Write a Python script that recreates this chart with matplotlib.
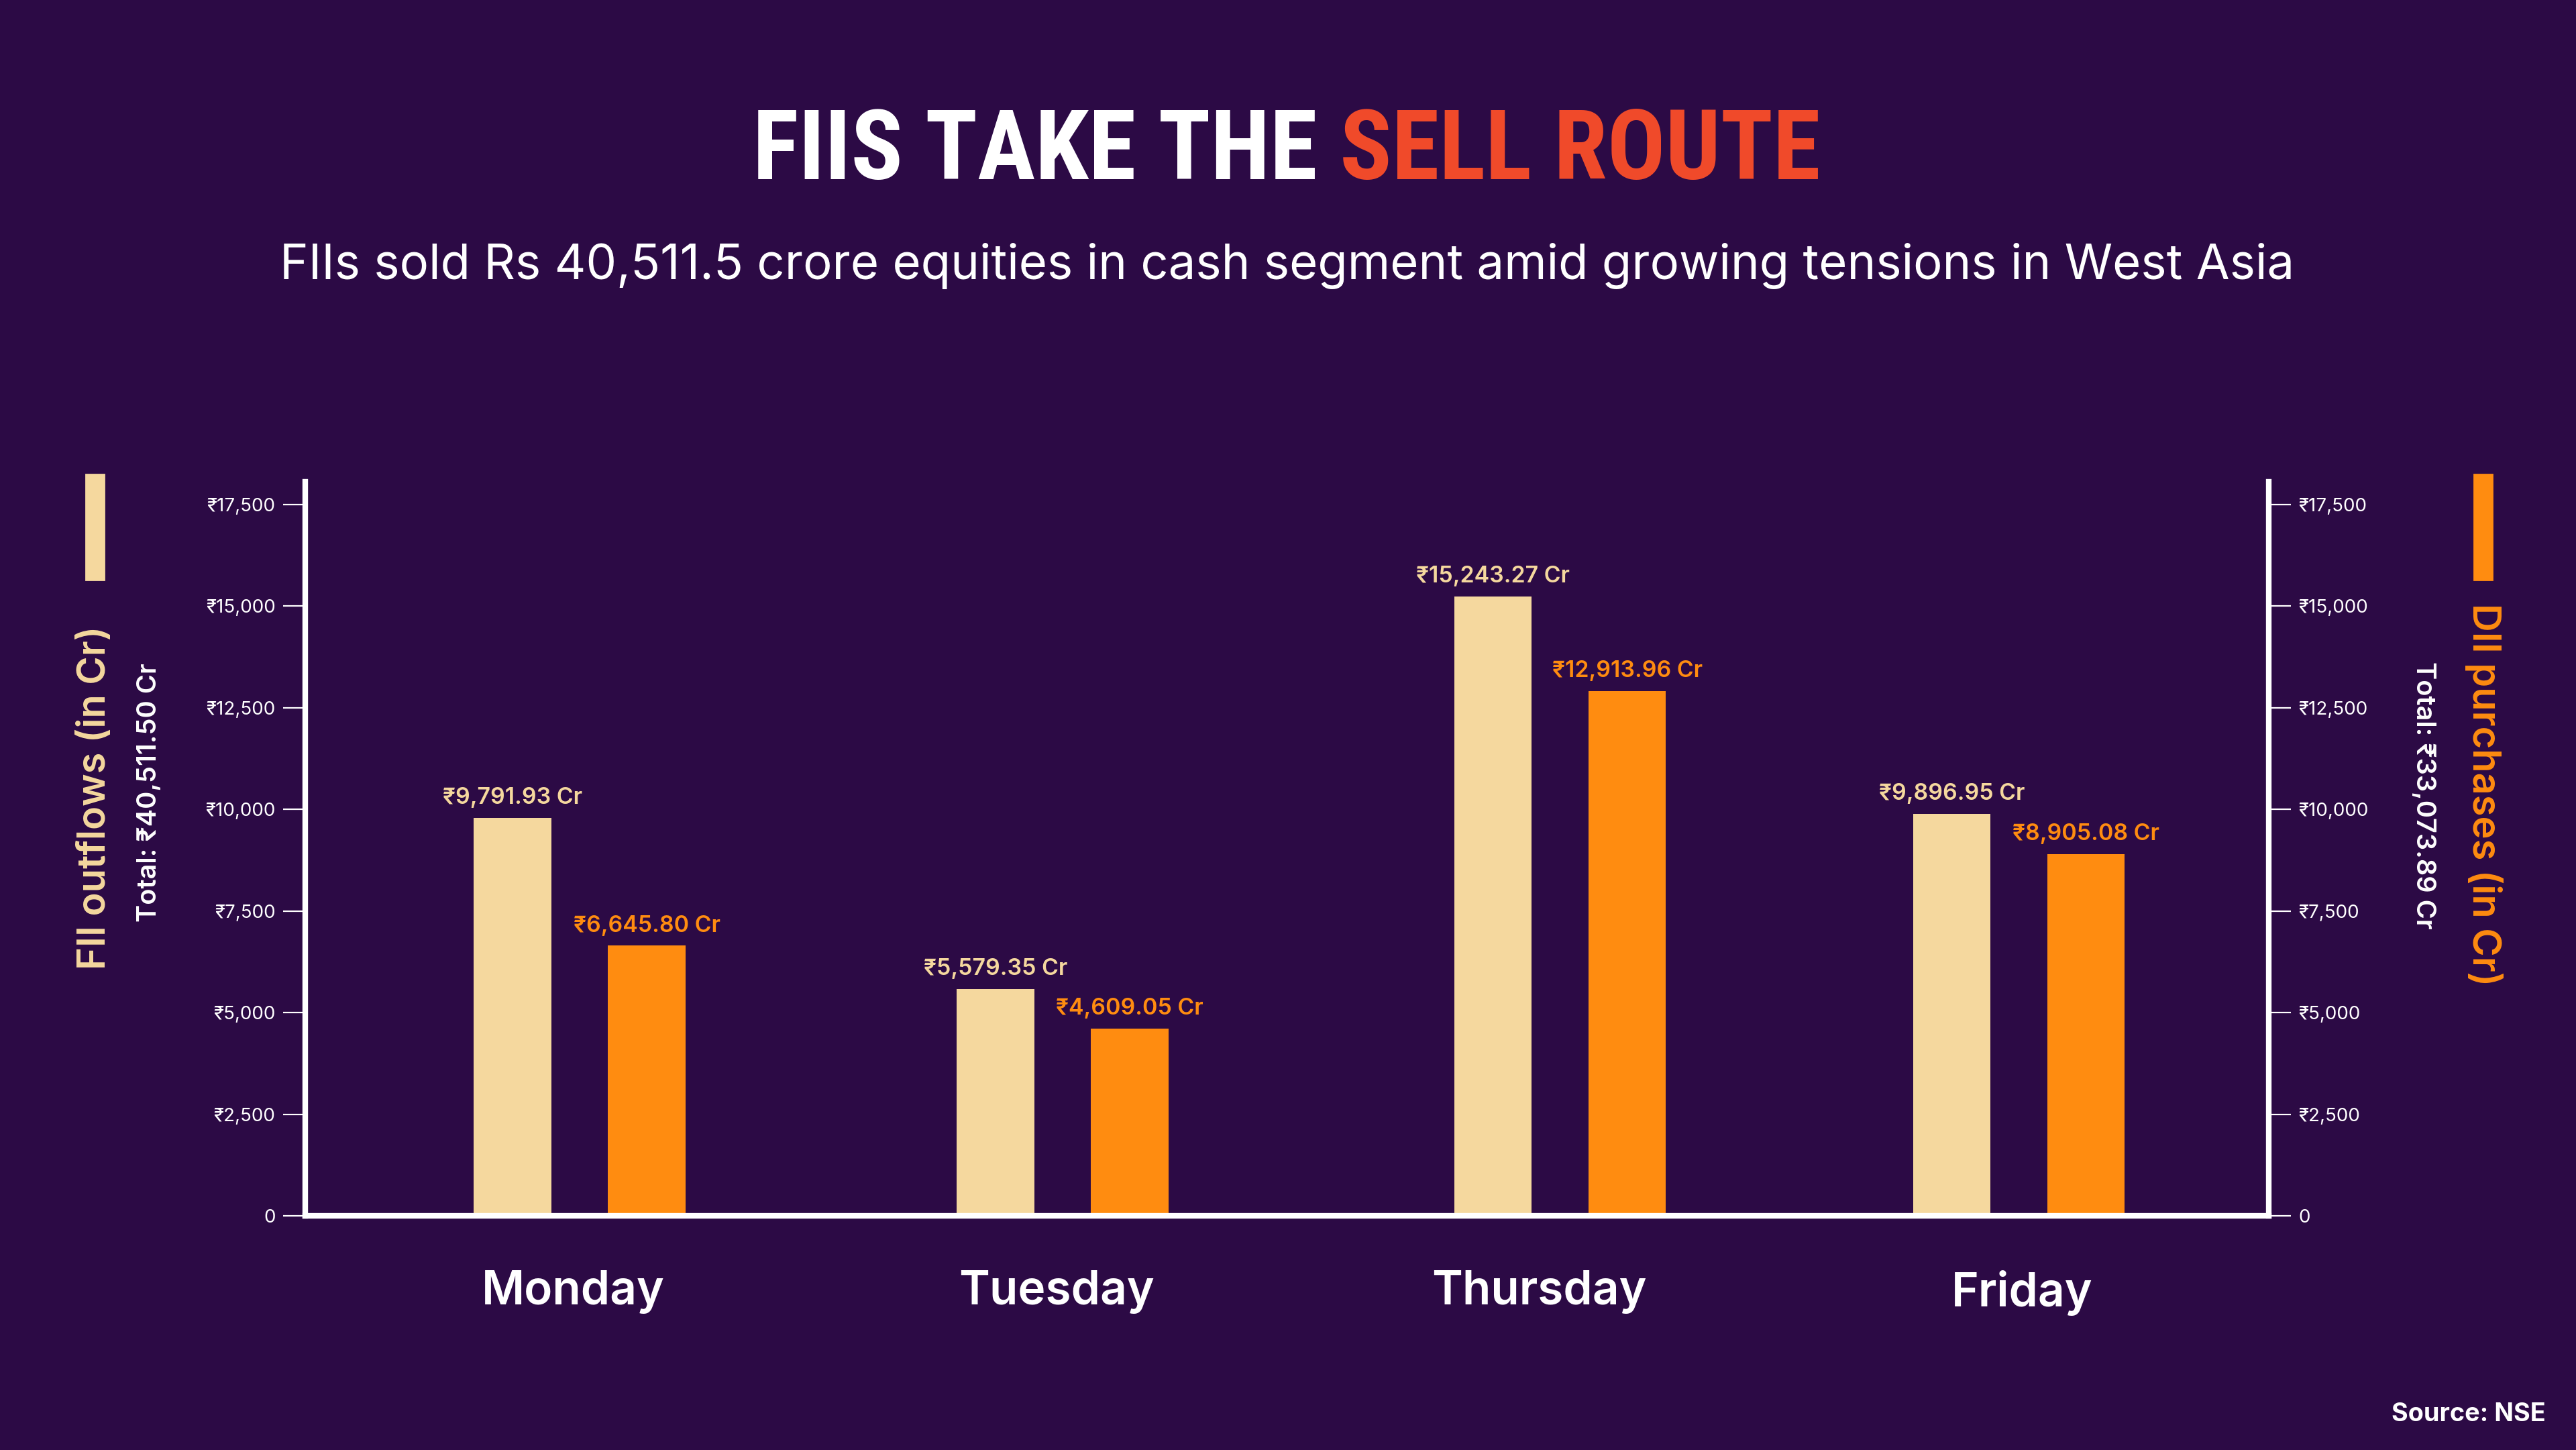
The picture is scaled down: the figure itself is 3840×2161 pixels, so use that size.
import matplotlib
matplotlib.use('Agg')
import matplotlib.pyplot as plt
import numpy as np
from matplotlib.ticker import FuncFormatter
from matplotlib.patches import Rectangle
from matplotlib import font_manager as fm

plt.rcParams['font.family'] = ['Inter', 'DejaVu Sans']

# data
days = ['Monday', 'Tuesday', 'Thursday', 'Friday']
fii_outflows = [9791.93, 5579.35, 15243.27, 9896.95]
dii_purchases = [6645.80, 4609.05, 12913.96, 8905.08]
fii_total = 40511.50
dii_total = 33073.89
y_ticks = [0, 2500, 5000, 7500, 10000, 12500, 15000, 17500]

# colours
bg = '#2C0A45'
fii_col = '#F5D89E'
dii_col = '#FF8C10'
red = '#F04A2A'

# small per-group nudge of the bars, as in the original layout
nudge = np.array([0.0, 0.0, 0.03, -0.02])

fig = plt.figure(figsize=(19.2, 10.805), dpi=200, facecolor=bg)
ax = fig.add_axes([0.1185, 0.1615, 0.8807 - 0.1185, 0.6677 - 0.1615])
ax.set_facecolor(bg)

x = np.arange(len(days))
w = 0.16
b1 = ax.bar(x + nudge - 0.126, fii_outflows, w, color=fii_col, zorder=2)
b2 = ax.bar(x + nudge + 0.152, dii_purchases, w, color=dii_col, zorder=2)

for bars, vals, c in [(b1, fii_outflows, fii_col), (b2, dii_purchases, dii_col)]:
    for r, v in zip(bars, vals):
        ax.annotate(f'₹{v:,.2f} Cr', (r.get_x() + r.get_width() / 2, v),
                    xytext=(0, 7.5), textcoords='offset points',
                    ha='center', va='baseline', color=c,
                    fontsize=12.2, fontweight='semibold')

ax.set_xlim(-0.555, 3.51)
ax.set_ylim(0, 18061)

fmt = FuncFormatter(lambda v, p: '0' if v == 0 else f'₹{int(v):,}')
ax.set_yticks(y_ticks)
ax.yaxis.set_major_formatter(fmt)
ax.tick_params(axis='y', colors='white', labelcolor='white', labelsize=10,
               length=12, width=0.8, pad=4)
ax.set_xticks(x)
ax.set_xticklabels(days, fontsize=25, fontweight='semibold', color='white')
ax.tick_params(axis='x', length=0, pad=29)

for s in ['top', 'right']:
    ax.spines[s].set_visible(False)
for s in ['left', 'bottom']:
    ax.spines[s].set_color('white')
    ax.spines[s].set_linewidth(3)

ax2 = ax.twinx()
ax2.set_ylim(ax.get_ylim())
ax2.set_yticks(y_ticks)
ax2.yaxis.set_major_formatter(fmt)
ax2.tick_params(axis='y', colors='white', labelcolor='white', labelsize=10,
                length=12, width=0.8, pad=4)
for s in ['top', 'left', 'bottom']:
    ax2.spines[s].set_visible(False)
ax2.spines['right'].set_color('white')
ax2.spines['right'].set_linewidth(3)

# axis titles and legend patches
fig.text(0.037, 0.450, 'FII outflows (in Cr)', rotation=90, color=fii_col,
         fontsize=20.8, fontweight='semibold', ha='center', va='center')
fig.text(0.058, 0.4535, f'Total: ₹{fii_total:,.2f} Cr', rotation=90, color='white',
         fontsize=14.3, fontweight='semibold', ha='center', va='center')
fig.text(0.9643, 0.452, 'DII purchases (in Cr)', rotation=270, color=dii_col,
         fontsize=20.8, fontweight='semibold', ha='center', va='center')
fig.text(0.9407, 0.4515, f'Total: ₹{dii_total:,.2f} Cr', rotation=270, color='white',
         fontsize=14.3, fontweight='semibold', ha='center', va='center')
fig.patches.append(Rectangle((0.0333, 0.6002), 0.00703, 0.0727, transform=fig.transFigure,
                             color=fii_col))
fig.patches.append(Rectangle((0.9604, 0.6002), 0.00703, 0.0727, transform=fig.transFigure,
                             color=dii_col))

# title: look for a condensed bold face, otherwise fall back to Inter
title_prop = fm.FontProperties(family='Inter', weight='bold')
for fam, stretch in [('Roboto Condensed', 'normal'), ('Noto Sans', 'condensed'),
                     ('DejaVu Sans', 'condensed'), ('Liberation Sans Narrow', 'normal'),
                     ('Open Sans', 'condensed'), ('Roboto', 'condensed')]:
    p = fm.FontProperties(family=fam, weight='bold', stretch=stretch)
    try:
        f = fm.findfont(p, fallback_to_default=False)
    except Exception:
        continue
    if 'ondensed' in f or 'Narrow' in f:
        title_prop = p
        break

t1 = fig.text(0.5, 0.8765, 'FIIS TAKE THE ', color='white', fontsize=58,
              fontproperties=title_prop, ha='left', va='baseline')
t2 = fig.text(0.5, 0.8765, 'SELL ROUTE', color=red, fontsize=58,
              fontproperties=title_prop, ha='left', va='baseline')
t1.set_fontsize(58)
t2.set_fontsize(58)
fig.canvas.draw()
r = fig.canvas.get_renderer()
w1 = t1.get_window_extent(r).width / fig.bbox.width
w2 = t2.get_window_extent(r).width / fig.bbox.width
# fit the title to the width it takes in the original
target = 1592 / 3840
k = min(1.0, target / (w1 + w2))
t1.set_fontsize(58 * k)
t2.set_fontsize(58 * k)
w1 *= k
w2 *= k
x0 = 0.4994 - (w1 + w2) / 2
t1.set_x(x0)
t2.set_x(x0 + w1)

fig.text(0.4995, 0.8075, 'FIIs sold Rs 40,511.5 crore equities in cash segment amid growing tensions in West Asia',
         color='white', fontsize=26.1, ha='center', va='baseline')
fig.text(0.9883, 0.0199, 'Source: NSE', color='white', fontsize=13.6,
         fontweight='bold', ha='right', va='baseline')

fig.savefig('out.png', dpi=200, facecolor=bg)
